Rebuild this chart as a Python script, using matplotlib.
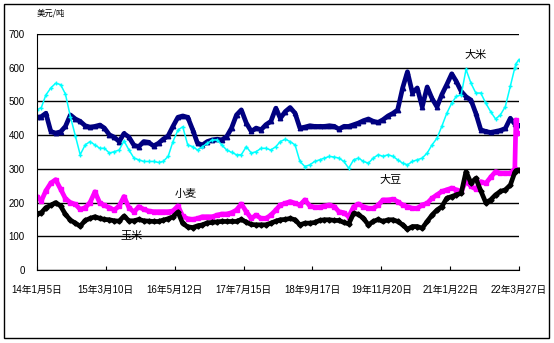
import pandas as pd
import matplotlib
matplotlib.use("Agg")
import matplotlib.pyplot as plt
from matplotlib.patches import Rectangle

plt.rcParams["font.family"] = ["Liberation Sans", "Noto Sans CJK SC"]

# monthly samples, plus two extra points in March 2022
dates = list(pd.date_range("2014-01-01", "2022-03-01", freq="MS"))
dates[0] = pd.Timestamp("2014-01-05")
dates += [pd.Timestamp("2022-03-08"), pd.Timestamp("2022-03-27")]

rice = [453, 455, 465, 411, 406, 410, 426, 460, 448, 441, 428, 424,
        426, 430, 421, 401, 394, 381, 405, 394, 370, 366, 381, 379,
        368, 376, 388, 398, 426, 453, 457, 453, 416, 376, 371, 381,
        386, 388, 386, 396, 421, 460, 475, 436, 411, 421, 416, 431,
        441, 480, 450, 470, 482, 465, 421, 424, 428, 426, 426, 426,
        428, 426, 418, 426, 426, 431, 436, 443, 448, 441, 438, 446,
        457, 465, 475, 540, 588, 525, 540, 484, 543, 509, 484, 520,
        550, 582, 560, 530, 514, 504, 465, 416, 411, 408, 411, 414,
        420, 450, 433, 432, 431]

soybean = [475, 482, 519, 540, 554, 550, 522, 455, 398, 342, 371, 381,
           371, 361, 361, 347, 351, 356, 383, 356, 332, 327, 322, 322,
           322, 319, 322, 337, 381, 415, 425, 371, 366, 356, 366, 376,
           386, 386, 371, 356, 349, 342, 342, 366, 347, 351, 361, 361,
           356, 366, 381, 388, 381, 371, 322, 307, 312, 322, 327, 332,
           337, 335, 332, 322, 302, 327, 332, 322, 317, 332, 342, 337,
           342, 337, 327, 317, 312, 322, 327, 332, 347, 371, 391, 426,
           465, 495, 515, 520, 595, 554, 525, 525, 495, 470, 448, 460,
           485, 545, 600, 612, 624]

wheat = [218, 205, 235, 258, 268, 240, 212, 200, 195, 180, 185, 200,
         232, 198, 192, 185, 178, 190, 218, 185, 172, 188, 180, 175,
         173, 173, 173, 173, 175, 190, 160, 152, 150, 153, 158, 158,
         158, 163, 166, 166, 170, 178, 196, 173, 153, 163, 153, 153,
         163, 178, 193, 198, 203, 198, 193, 208, 190, 186, 186, 190,
         193, 188, 173, 170, 158, 188, 196, 188, 183, 183, 193, 208,
         208, 210, 203, 193, 188, 183, 183, 193, 198, 213, 223, 233,
         238, 243, 238, 233, 264, 248, 240, 262, 257, 275, 292, 287,
         287, 287, 300, 445, 406]

corn = [167, 170, 185, 192, 200, 190, 165, 148, 139, 130, 147, 153,
        158, 153, 150, 149, 146, 145, 160, 146, 146, 150, 146, 145,
        144, 144, 148, 152, 158, 172, 138, 128, 126, 131, 134, 140,
        141, 143, 144, 144, 144, 144, 150, 142, 135, 134, 134, 134,
        139, 145, 149, 150, 153, 149, 134, 139, 139, 141, 147, 149,
        149, 147, 147, 141, 137, 168, 165, 153, 134, 144, 150, 144,
        149, 149, 144, 134, 121, 129, 129, 124, 144, 163, 178, 188,
        213, 218, 223, 228, 292, 258, 272, 235, 200, 208, 223, 233,
        238, 252, 290, 295, 297]

tick_dates = ["2014-01-05", "2015-03-10", "2016-05-12", "2017-07-15",
              "2018-09-17", "2019-11-20", "2021-01-22", "2022-03-27"]
tick_labels = ["14年1月5日", "15年3月10日", "16年5月12日", "17年7月15日",
               "18年9月17日", "19年11月20日", "21年1月22日", "22年3月27日"]

fig = plt.figure(figsize=(5.54, 3.43), dpi=100)
ax = fig.add_axes([0.0668, 0.2128, 0.870, 0.688])

ax.plot(dates, rice, color="#000080", lw=3.4, marker="^", ms=3.2,
        mec="#000080", mfc="#000080", solid_joinstyle="round")
ax.plot(dates, soybean, color="#00FFFF", lw=1.1, marker="+", ms=3.5,
        mew=1.0)
ax.plot(dates, wheat, color="#FF00FF", lw=3.4, marker="s", ms=2.8,
        mec="#FF00FF", solid_joinstyle="round")
ax.plot(dates, corn, color="black", lw=3.4, marker="D", ms=2.6,
        mec="black", solid_joinstyle="round")

ax.set_ylim(0, 700)
ax.set_yticks(range(0, 701, 100))
ax.set_xlim(pd.Timestamp("2014-01-05"), pd.Timestamp("2022-03-27"))
ax.set_xticks(pd.to_datetime(tick_dates))
ax.set_xticklabels(tick_labels)

ax.grid(axis="y", color="black", lw=1)
ax.set_axisbelow(True)
ax.spines["top"].set_visible(False)
ax.spines["right"].set_visible(False)
ax.tick_params(axis="y", length=0, pad=9, labelsize=7)
ax.tick_params(axis="x", direction="in", length=3, pad=11, labelsize=7)

ax.text(0.0, 1.09, "美元/吨", transform=ax.transAxes, fontsize=6,
        ha="left", va="center", family=["Noto Sans CJK SC"])
for label, xf, yf in [("大米", 0.909, 0.913), ("大豆", 0.733, 0.381),
                      ("小麦", 0.309, 0.324), ("玉米", 0.197, 0.144)]:
    ax.text(xf, yf, label, transform=ax.transAxes, fontsize=8,
            ha="center", va="center", family=["Noto Sans CJK SC"])

fig.add_artist(Rectangle((0.0072, 0.0146), 0.9838, 0.9738, fill=False,
                         lw=1, ec="black", transform=fig.transFigure))

fig.savefig("out.png", dpi=100)
